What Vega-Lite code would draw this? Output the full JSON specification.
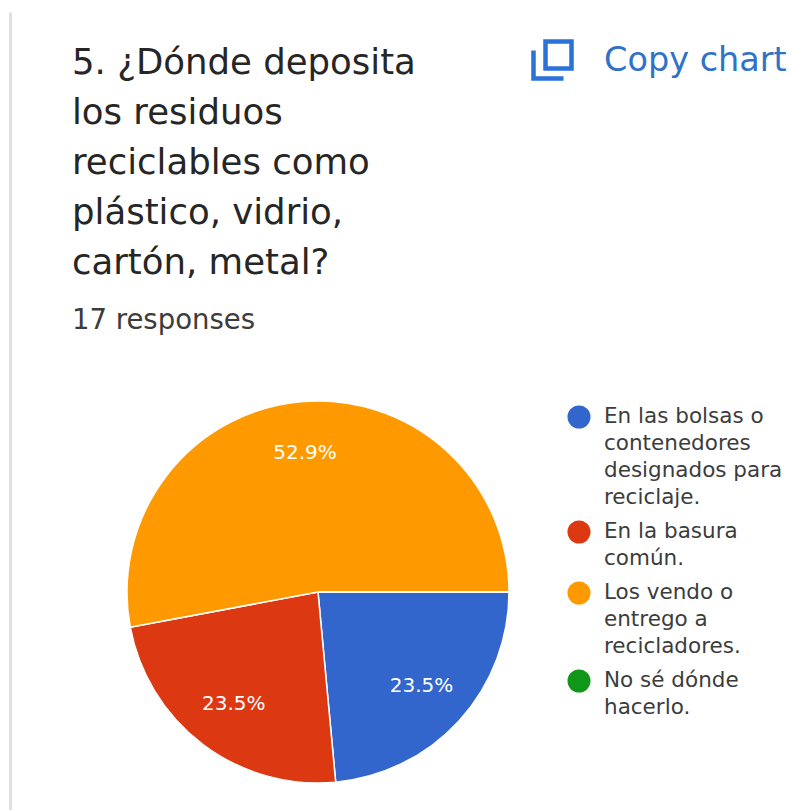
{
  "$schema": "https://vega.github.io/schema/vega-lite/v6.json",
  "width": 636,
  "height": 436,
  "autosize": "none",
  "padding": {"left": 0, "top": 374, "right": 156, "bottom": 0},
  "background": "#ffffff",
  "view": {"stroke": null},
  "title": {
    "text": ["5. ¿Dónde deposita", "los residuos", "reciclables como", "plástico, vidrio,", "cartón, metal?"],
    "subtitle": "17 responses",
    "anchor": "start",
    "frame": "group",
    "orient": "top",
    "dx": 72,
    "offset": -296,
    "font": "DejaVu Sans",
    "fontSize": 35.5,
    "fontWeight": 400,
    "lineHeight": 50,
    "color": "#262626",
    "subtitleFont": "DejaVu Sans",
    "subtitleFontSize": 27.5,
    "subtitleColor": "#3c3c3c",
    "subtitlePadding": 25
  },
  "datasets": {
    "answers": [
      {"answer": "En las bolsas o contenedores designados para reciclaje.", "share": 0.235, "rank": 1},
      {"answer": "En la basura común.", "share": 0.235, "rank": 2},
      {"answer": "Los vendo o entrego a recicladores.", "share": 0.529, "rank": 3},
      {"answer": "No sé dónde hacerlo.", "share": 0, "rank": 4}
    ],
    "actions": [
      {"action": "Copy chart", "edge": 0.5}
    ]
  },
  "layer": [
    {
      "data": {"name": "actions"},
      "mark": {"type": "point", "filled": false, "opacity": 1},
      "encoding": {
        "y": {
          "field": "edge",
          "type": "quantitative",
          "scale": {"domain": [0, 1], "range": [436, -362]},
          "axis": {
            "title": null,
            "labels": false,
            "ticks": false,
            "grid": false,
            "domain": true,
            "domainColor": "#e0e0e0",
            "domainWidth": 3,
            "offset": -10
          }
        },
        "shape": {
          "field": "action",
          "type": "nominal",
          "scale": {
            "domain": ["Copy chart"],
            "range": ["M-0.95,-0.5 V0.9 H0.55 M-0.35,-0.95 H0.95 V0.4 H-0.35 Z"]
          },
          "legend": {
            "title": null,
            "orient": "none",
            "legendX": 530,
            "legendY": -336,
            "symbolSize": 1600,
            "symbolType": "M-0.95,-0.5 V0.9 H0.55 M-0.35,-0.95 H0.95 V0.4 H-0.35 Z",
            "symbolFillColor": "transparent",
            "symbolStrokeColor": "#2a72d8",
            "symbolStrokeWidth": 4.5,
            "symbolOpacity": 1,
            "labelFont": "DejaVu Sans",
            "labelFontSize": 33.5,
            "labelFontWeight": 400,
            "labelColor": "#2f72c8",
            "labelOffset": 29,
            "labelLimit": 300
          }
        },
        "size": {"value": 1}
      }
    },
    {
      "data": {"name": "answers"},
      "mark": {"type": "arc", "outerRadius": 191, "stroke": "#ffffff", "strokeWidth": 1.5},
      "encoding": {
        "theta": {
          "field": "share",
          "type": "quantitative",
          "stack": true,
          "scale": {"range": [1.5708, 7.854]}
        },
        "order": {"field": "rank", "type": "ordinal"},
        "color": {
          "field": "answer",
          "type": "nominal",
          "sort": {"field": "rank"},
          "scale": {
            "domain": [
              "En las bolsas o contenedores designados para reciclaje.",
              "En la basura común.",
              "Los vendo o entrego a recicladores.",
              "No sé dónde hacerlo."
            ],
            "range": ["#3366cc", "#dc3912", "#ff9900", "#109618"]
          },
          "legend": {
            "title": null,
            "orient": "none",
            "legendX": 567,
            "legendY": 31,
            "symbolType": "circle",
            "symbolSize": 530,
            "symbolStrokeWidth": 0,
            "labelFont": "DejaVu Sans",
            "labelFontSize": 21.5,
            "labelColor": "#3c3c3c",
            "labelLimit": 300,
            "labelOffset": 13,
            "labelBaseline": "top",
            "labelExpr": "{'En las bolsas o contenedores designados para reciclaje.': ['En las bolsas o', 'contenedores', 'designados para', 'reciclaje.'], 'En la basura común.': ['En la basura', 'común.'], 'Los vendo o entrego a recicladores.': ['Los vendo o', 'entrego a', 'recicladores.'], 'No sé dónde hacerlo.': ['No sé dónde', 'hacerlo.']}[datum.label]",
            "rowPadding": 11,
            "encoding": {
              "labels": {"dy": {"value": -11}, "lineHeight": {"value": 27}}
            }
          }
        }
      }
    },
    {
      "data": {"name": "answers"},
      "mark": {"type": "text", "radius": 140, "color": "#ffffff", "font": "DejaVu Sans", "fontSize": 20},
      "encoding": {
        "theta": {"field": "share", "type": "quantitative", "stack": true},
        "order": {"field": "rank", "type": "ordinal"},
        "text": {"condition": {"test": "datum.share > 0", "field": "share", "format": ".1%"}, "value": ""}
      }
    }
  ]
}
